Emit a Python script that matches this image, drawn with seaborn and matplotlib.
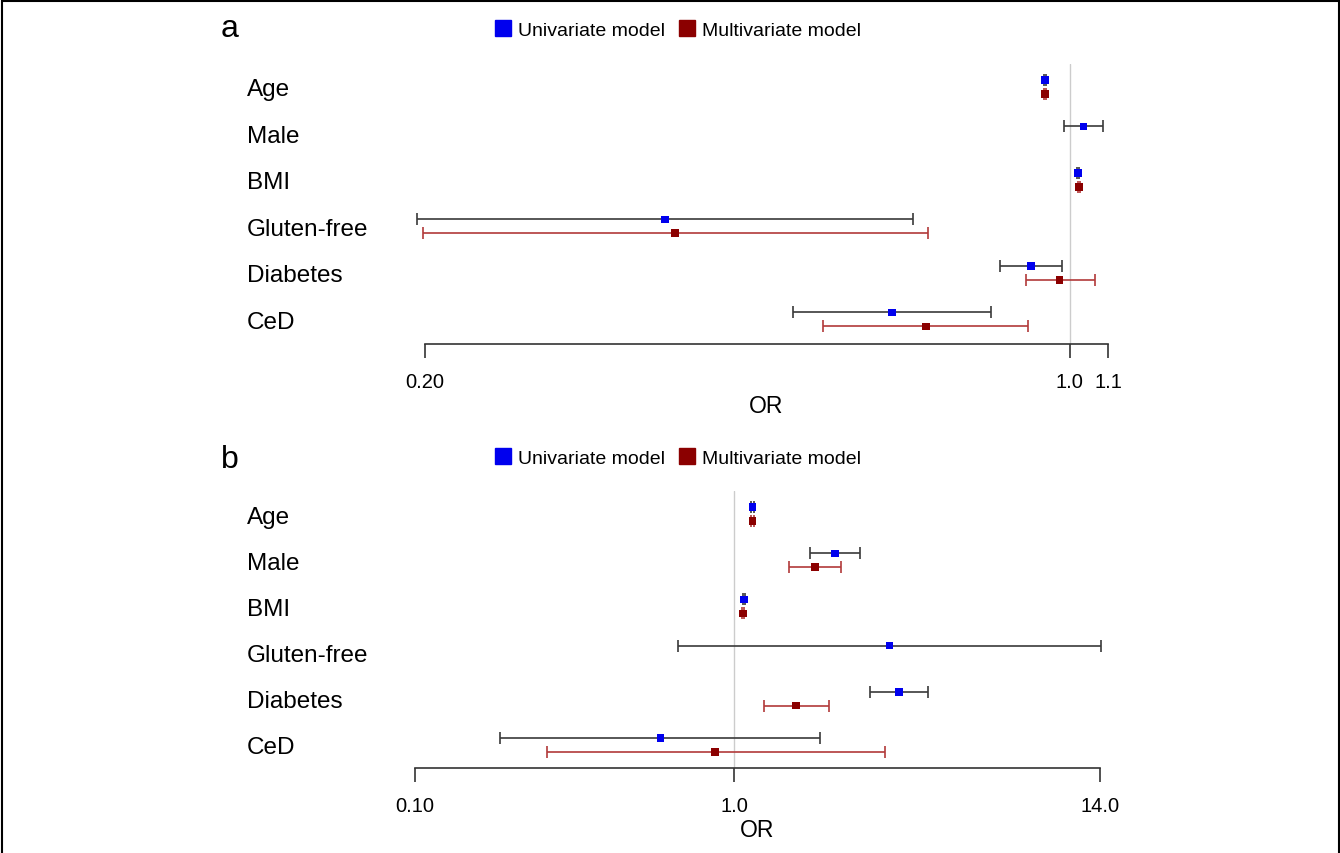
import numpy as np
import pandas as pd
import matplotlib
matplotlib.use("Agg")
import matplotlib.pyplot as plt
import matplotlib.transforms as mtransforms
from matplotlib.patches import Rectangle
from matplotlib.lines import Line2D
import seaborn as sb

sb.set_style("white")
plt.rcParams['font.family'] = ['Liberation Sans', 'DejaVu Sans']
plt.rcParams['text.color'] = 'black'
plt.rcParams['xtick.color'] = 'black'
plt.rcParams['axes.labelcolor'] = 'black'

variables = ['Age', 'Male', 'BMI', 'Gluten-free', 'Diabetes', 'CeD']

# panel a
a_uni_or = [0.94, 1.035, 1.020, 0.364, 0.907, 0.642]
a_uni_lo = [0.938, 0.985, 1.018, 0.196, 0.840, 0.501]
a_uni_hi = [0.942, 1.086, 1.022, 0.676, 0.980, 0.821]
a_multi_or = [0.94, np.nan, 1.023, 0.373, 0.975, 0.698]
a_multi_lo = [0.938, np.nan, 1.021, 0.199, 0.896, 0.540]
a_multi_hi = [0.942, np.nan, 1.025, 0.702, 1.064, 0.900]
a_ticks = [0.20, 1.0, 1.1]
a_ticklabels = ['0.20', '1.0', '1.1']

# panel b
b_uni_or = [1.14, 2.07, 1.075, 3.07, 3.28, 0.587]
b_uni_lo = [1.13, 1.73, 1.065, 0.668, 2.66, 0.184]
b_uni_hi = [1.15, 2.48, 1.085, 14.1, 4.04, 1.86]
b_multi_or = [1.14, 1.79, 1.067, np.nan, 1.56, 0.872]
b_multi_lo = [1.13, 1.49, 1.057, np.nan, 1.24, 0.259]
b_multi_hi = [1.15, 2.16, 1.077, np.nan, 1.98, 2.96]
b_ticks = [0.10, 1.0, 14.0]
b_ticklabels = ['0.10', '1.0', '14.0']

uni_col = '#0000ee'
multi_col = '#8b0000'
uni_ci = '#3a3a3a'
multi_ci = '#b23a3a'

W, H = 1340, 854
fig = plt.figure(figsize=(13.4, 8.54), dpi=100)

# outer frame
fig.patches.append(Rectangle((1.5 / W, -0.05), 1 - 3 / W, 1.05 - 2 / H,
                             transform=fig.transFigure, fill=False,
                             edgecolor='black', linewidth=1.5))


def panel(rect, letter, uni, uni_lo, uni_hi, multi, multi_lo, multi_hi,
          ticks, ticklabels, ylim, letter_y, legend_y):
    ax = fig.add_axes(rect)
    rows = np.arange(len(variables))
    off = 0.15
    df = pd.DataFrame({
        'var': variables * 2,
        'y': np.concatenate([rows - off, rows + off]),
        'OR': uni + multi,
        'lo': uni_lo + multi_lo,
        'hi': uni_hi + multi_hi,
        'model': ['Univariate model'] * 6 + ['Multivariate model'] * 6,
    }).dropna()

    ax.axvline(1.0, color='#cccccc', linewidth=1, zorder=0)
    for model, ccol in [('Univariate model', uni_ci), ('Multivariate model', multi_ci)]:
        d = df[df.model == model]
        eb = ax.errorbar(d.OR, d.y, xerr=[d.OR - d.lo, d.hi - d.OR], fmt='none',
                         ecolor=ccol, elinewidth=1.2, capsize=4, capthick=1.2, zorder=2)
        for art in eb.lines[1] + eb.lines[2]:
            art.set_clip_on(False)
    sb.scatterplot(data=df, x='OR', y='y', hue='model', marker='s', s=30,
                   palette={'Univariate model': uni_col, 'Multivariate model': multi_col},
                   edgecolor='none', legend=False, ax=ax, zorder=3)

    ax.set_xscale('log')
    ax.set_xlim(ticks[0], ticks[-1])
    ax.set_ylim(*ylim)
    ax.set_xticks(ticks)
    ax.set_xticklabels(ticklabels)
    ax.xaxis.set_minor_locator(matplotlib.ticker.NullLocator())
    ax.set_yticks([])
    ax.set_ylabel('')
    ax.set_xlabel('OR', fontsize=16.5, labelpad=2)
    ax.tick_params(axis='x', direction='out', length=10, width=1.2,
                   color='#333333', labelsize=14.5, pad=10, bottom=True)
    for s in ['top', 'right', 'left']:
        ax.spines[s].set_visible(False)
    ax.spines['bottom'].set_linewidth(1.2)
    ax.spines['bottom'].set_color('#333333')
    ax.patch.set_alpha(0)

    trans = mtransforms.blended_transform_factory(fig.transFigure, ax.transData)
    for i, v in enumerate(variables):
        ax.text(247 / W, i, v, transform=trans, ha='left', va='center_baseline',
                fontsize=17.5)

    fig.text(221 / W, letter_y, letter, fontsize=23, ha='left', va='center')
    handles = [Line2D([], [], marker='s', linestyle='none', color=uni_col, markersize=11),
               Line2D([], [], marker='s', linestyle='none', color=multi_col, markersize=11)]
    fig.legend(handles, ['Univariate model', 'Multivariate model'], ncol=2,
               loc='center', bbox_to_anchor=(677 / W, legend_y), frameon=False,
               fontsize=14, handletextpad=0.3, columnspacing=0.6, handlelength=1.0)
    return ax


panel([425 / W, 1 - 345 / H, 683 / W, 280 / H], 'a',
      a_uni_or, a_uni_lo, a_uni_hi, a_multi_or, a_multi_lo, a_multi_hi,
      a_ticks, a_ticklabels, (5.53, -0.49), 1 - 29 / H, 1 - 31 / H)
panel([415 / W, 1 - 769 / H, 685 / W, 277 / H], 'b',
      b_uni_or, b_uni_lo, b_uni_hi, b_multi_or, b_multi_lo, b_multi_hi,
      b_ticks, b_ticklabels, (5.50, -0.50), 1 - 460 / H, 1 - 459 / H)

fig.savefig('out.png', dpi=100)
